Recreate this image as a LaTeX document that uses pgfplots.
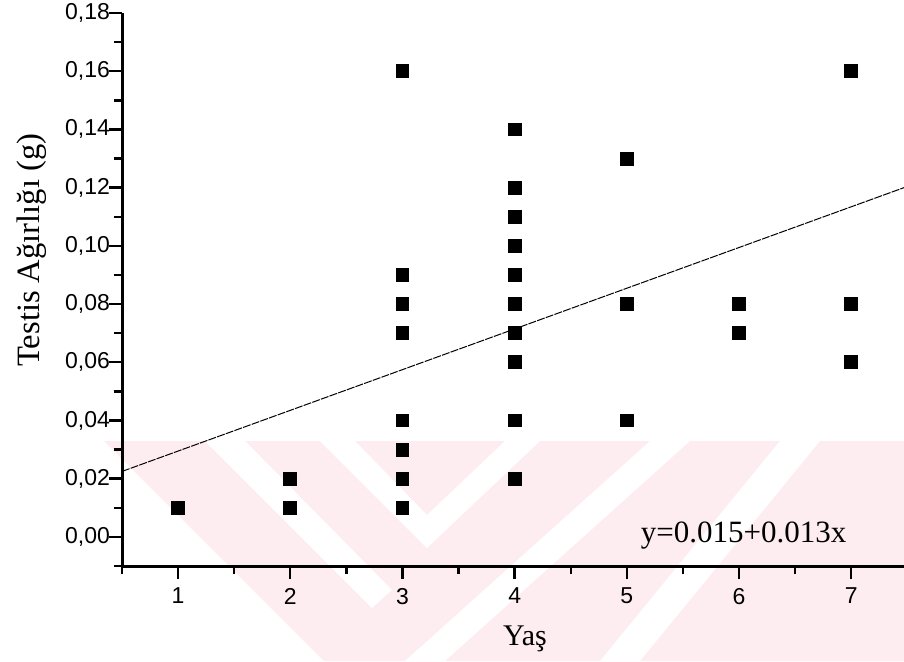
\documentclass[border=0pt]{standalone}
\usepackage{fontspec}
\setmainfont{Liberation Serif}
\newfontfamily\arial{Liberation Sans}
\usepackage{pgfplots}
\pgfplotsset{compat=1.18}
\definecolor{wm}{RGB}{253,237,240}
\begin{document}
\begin{tikzpicture}
\useasboundingbox (0,0) rectangle (452pt,330.5pt);
% faint background watermark
\fill[wm] (52pt,110pt) -- (452pt,110pt) -- (452pt,0pt) -- (162pt,0pt) -- cycle;
\fill[white] (102.5pt,110pt) -- (122.5pt,110pt) -- (196pt,35.5pt) -- (186pt,26.5pt) -- cycle;
\fill[white] (160pt,110pt) -- (177.5pt,110pt) -- (213.5pt,73pt) -- (252.5pt,110pt) -- (270pt,110pt) -- (213.5pt,56.5pt) -- cycle;
\fill[white] (202.5pt,0pt) -- (222.5pt,0pt) -- (345pt,110pt) -- (325pt,110pt) -- cycle;
\fill[white] (300pt,0pt) -- (320pt,0pt) -- (410pt,110pt) -- (390pt,110pt) -- cycle;
\begin{axis}[
  at={(61pt,47.5pt)}, anchor=south west,
  scale only axis, width=391pt, height=276.5pt,
  xmin=0.5, xmax=7.47, ymin=-0.01, ymax=0.18,
  axis x line=bottom, axis y line=left,
  axis line style={-, line width=1.5pt},
  tick align=outside,
  major tick length=6.5pt, minor tick length=4pt,
  every tick/.style={black, line width=1.2pt},
  xtick={1,...,7}, minor xtick={0.5,1.5,...,7.5},
  ytick={0,0.02,...,0.18}, minor ytick={-0.01,0.01,...,0.17},
  /pgf/number format/assume math mode=true,
  yticklabel style={xshift=4pt, /pgf/number format/.cd, use comma, fixed, fixed zerofill, precision=2},
  tick label style={font=\arial\fontsize{11.5}{13}\selectfont},
  xticklabel style={yshift=-1pt},
  xlabel={Yaş}, ylabel={Testis Ağırlığı (g)},
  xlabel style={font=\fontsize{15}{17}\selectfont, xshift=6pt, yshift=-4pt},
  ylabel style={font=\fontsize{16.3}{18}\selectfont, at={(ticklabel cs:0.571)}, yshift=2.5pt},
  clip=false,
]
\addplot[only marks, mark=square*, mark size=3.2pt, black] coordinates {
 (1,0.01)
 (2,0.02) (2,0.01)
 (3,0.16) (3,0.09) (3,0.08) (3,0.07) (3,0.04) (3,0.03) (3,0.02) (3,0.01)
 (4,0.14) (4,0.12) (4,0.11) (4,0.10) (4,0.09) (4,0.08) (4,0.07) (4,0.06) (4,0.04) (4,0.02)
 (5,0.13) (5,0.08) (5,0.04)
 (6,0.08) (6,0.07)
 (7,0.16) (7,0.08) (7,0.06)
};
\addplot[black, line width=0.5pt, dash pattern=on 4pt off 0.6pt] coordinates {(0.5,0.0225) (7.47,0.1200)};
\node[font=\fontsize{15.5}{17}\selectfont, anchor=base] at (axis cs:6.04,-0.002) {y=0.015+0.013x};
\end{axis}
\end{tikzpicture}
\end{document}
